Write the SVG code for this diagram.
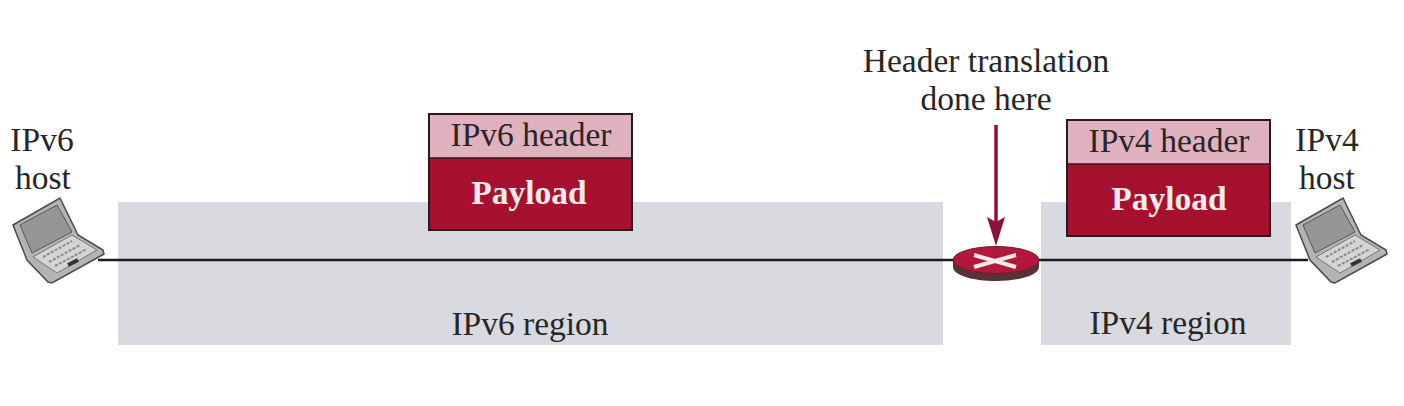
<svg xmlns="http://www.w3.org/2000/svg" width="1404" height="406" viewBox="0 0 1404 406">
<style>
text{font-family:"Liberation Serif","Times New Roman",serif;font-size:33.5px;fill:#262626;text-anchor:middle}
.bold{font-weight:bold;fill:#f6ecec}
.region{fill:#d8dae0}
.hdr{fill:#e0b2bf;stroke:none}
.pay{fill:#a6112f;stroke:none}
.frame{fill:none;stroke:#2a1a1e;stroke-width:2}
.body{fill:#b4b4b4;stroke:#4a4a4a;stroke-width:1.5}
.scr{fill:#969696;stroke:#555;stroke-width:1}
.key{fill:#d4d4d4;stroke:#777;stroke-width:1}
</style>
<defs>
<g id="laptop">
<path class="body" d="M-45 -15L2 -42L20 -5L45 10L46 14L-6 43L-10 42L-31 20Z"/>
<path class="scr" d="M-38 -15L-1 -35L14 -8L-26 13Z"/>
<path class="key" d="M-25 17L14 -5L39 10L-1 33Z"/>
<path d="M-15 17L14 1M-9 22L22 5M-3 26L29 9" stroke="#8a8a8a" stroke-width="2" stroke-dasharray="3 1.5" fill="none"/>
<path d="M10 25L20 20" stroke="#333" stroke-width="4"/>
</g>
</defs>
<rect width="1404" height="406" fill="#ffffff"/>
<g id="region-ipv6"><rect class="region" x="118" y="202" width="825" height="143"/><text x="530" y="335">IPv6 region</text></g>
<g id="region-ipv4"><rect class="region" x="1041" y="202" width="250" height="143"/><text x="1168" y="334">IPv4 region</text></g>
<g id="connectors">
<path d="M98 260H955M1035 260H1308" fill="none" stroke="#1c1c1c" stroke-width="2.5"/>
<path d="M996 125V226" fill="none" stroke="#8c1238" stroke-width="3.5"/>
<path d="M987 217L996 222L1005 217L996 246Z" fill="#8c1238"/>
</g>
<g id="label-translation"><text x="986" y="72">Header translation</text><text x="986" y="110">done here</text></g>
<g id="host-ipv6"><text x="42" y="151">IPv6</text><text x="43" y="189">host</text><use href="#laptop" x="58" y="240"/></g>
<g id="host-ipv4"><text x="1327" y="151">IPv4</text><text x="1327" y="189">host</text><use href="#laptop" x="1341" y="240"/></g>
<g id="packet-ipv6"><rect class="hdr" x="429" y="114" width="203" height="44"/><rect class="pay" x="429" y="158" width="203" height="72"/><rect class="frame" x="429" y="114" width="203" height="116"/><path d="M429 158H632" stroke="#2a1a1e" stroke-width="1.5"/><text x="531" y="146">IPv6 header</text><text class="bold" x="529" y="204">Payload</text></g>
<g id="packet-ipv4"><rect class="hdr" x="1067" y="120" width="203" height="44"/><rect class="pay" x="1067" y="164" width="203" height="72"/><rect class="frame" x="1067" y="120" width="203" height="116"/><path d="M1067 164H1270" stroke="#2a1a1e" stroke-width="1.5"/><text x="1169" y="152">IPv4 header</text><text class="bold" x="1169" y="210">Payload</text></g>
<g id="router">
<path d="M953 261V267C953 275 972 281 996 281C1020 281 1039 275 1039 267V261Z" fill="#5a3038"/>
<ellipse cx="996" cy="260" rx="43" ry="13.5" fill="#b3183c" stroke="#6a2030" stroke-width="1"/>
<path d="M974 255L1016 267M1016 255L974 267" stroke="#f2e8e8" stroke-width="4" fill="none"/>
</g>
</svg>
